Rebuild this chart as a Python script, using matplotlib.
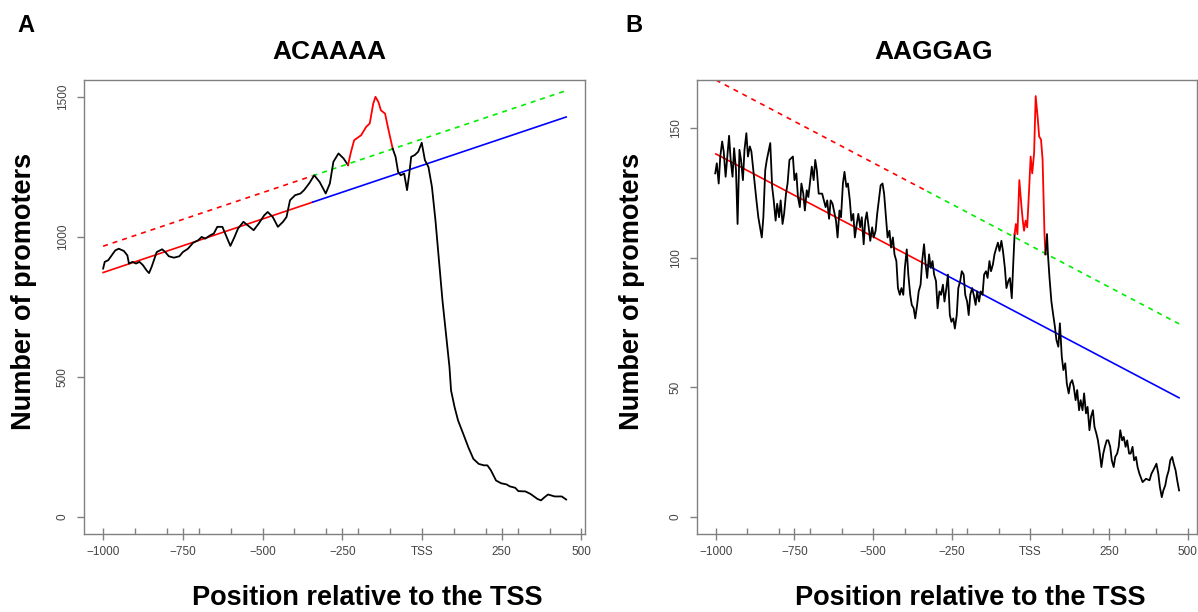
import numpy as np
import matplotlib
matplotlib.use("Agg")
import matplotlib.pyplot as plt

plt.rcParams['font.family'] = ['Liberation Sans', 'DejaVu Sans']

# ---------------- data ----------------
panel_letters = ["A", "B"]
motifs = ["ACAAAA", "AAGGAG"]
xlabel_text = "Position relative to the TSS"
ylabel_text = "Number of promoters"
xtick_vals = [-1000, -750, -500, -250, 0, 250, 500]
xtick_labels = ["\u22121000", "\u2212750", "\u2212500", "\u2212250", "TSS", "250", "500"]
xminor_vals = [-900, -800, -700, -600, -400, -300, -200, -100, 100, 200, 300, 400]
ytick_a = [0, 500, 1000, 1500]
ytick_b = [0, 50, 100, 150]

pos_a = [-1000, -995, -984, -962, -951, -935, -924, -919, -908, -897, -886, -875, -864, -856,
         -848, -832, -815, -805, -794, -778, -761, -750, -734, -718, -702, -691, -680, -664,
         -653, -642, -626, -615, -601, -588, -577, -560, -544, -528, -512, -495, -484, -468,
         -452, -436, -425, -414, -398, -381, -370, -354, -338, -321, -302, -289, -278, -262,
         -246, -232, -224, -213, -191, -175, -164, -153, -146, -137, -129, -116, -105, -92,
         -83, -75, -67, -56, -47, -40, -34, -23, -12, -1, 9, 20, 31, 42, 53, 64, 75, 86, 91,
         102, 113, 129, 145, 161, 178, 194, 205, 216, 232, 248, 265, 275, 292, 302, 324, 340,
         362, 373, 384, 395, 416, 438, 452]
cnt_a = [887, 911, 917, 952, 958, 950, 934, 905, 911, 905, 911, 899, 881, 871,
         893, 946, 956, 946, 931, 926, 931, 946, 958, 979, 988, 1000, 994, 1006,
         1012, 1036, 1036, 1006, 968, 1000, 1030, 1054, 1039, 1024, 1048, 1077, 1089, 1071,
         1036, 1054, 1071, 1131, 1149, 1155, 1167, 1191, 1220, 1196, 1155, 1191, 1268, 1298,
         1280, 1256, 1298, 1345, 1363, 1393, 1405, 1476, 1500, 1482, 1452, 1440, 1381, 1315,
         1286, 1232, 1220, 1226, 1167, 1226, 1286, 1292, 1304, 1336, 1274, 1250, 1179, 1060,
         917, 774, 655, 536, 452, 393, 345, 298, 250, 208, 190, 185, 185, 167, 131, 121, 117,
         110, 105, 93, 92, 83, 65, 60, 71, 81, 74, 74, 63]
highlight_a = (-232, -92)
trend_a_x = [-1000, 452]
trend_a_y = [873, 1428]
trend_a_split = -343
trend_a_offset = 94

pos_b = [-1002, -997, -991, -986, -980, -975, -969, -964, -958, -953, -947, -942, -936, -931,
         -925, -920, -914, -909, -903, -898, -892, -887, -881, -871, -865, -854, -849, -843,
         -838, -827, -821, -816, -810, -805, -799, -794, -788, -783, -777, -772, -766, -755,
         -750, -744, -739, -733, -728, -722, -717, -711, -706, -695, -689, -684, -679, -673,
         -662, -651, -646, -640, -635, -629, -618, -613, -607, -602, -596, -591, -585, -580,
         -574, -569, -563, -558, -552, -547, -541, -536, -530, -525, -520, -514, -509, -503,
         -498, -492, -487, -476, -470, -465, -459, -454, -448, -443, -437, -432, -426, -421,
         -415, -410, -404, -399, -393, -388, -382, -377, -371, -366, -360, -355, -349, -344,
         -338, -333, -328, -322, -317, -311, -306, -300, -295, -289, -284, -278, -273, -267,
         -262, -256, -251, -245, -240, -234, -229, -223, -218, -212, -207, -201, -196, -191,
         -185, -180, -174, -169, -163, -158, -152, -147, -141, -136, -130, -125, -119, -114,
         -108, -103, -98, -92, -87, -81, -76, -70, -65, -59, -54, -50, -46, -41, -35, -28,
         -24, -20, -15, -10, -4, 1, 6, 12, 17, 23, 28, 34, 39, 45, 48, 53, 56, 61, 67, 72,
         78, 83, 89, 94, 100, 105, 111, 116, 122, 127, 133, 138, 144, 149, 155, 160, 166, 171,
         177, 182, 188, 193, 199, 204, 210, 215, 221, 226, 232, 237, 243, 248, 254, 259, 265,
         270, 276, 281, 286, 292, 297, 303, 308, 314, 319, 325, 330, 336, 341, 347, 357, 368,
         379, 385, 396, 401, 407, 412, 418, 423, 429, 434, 440, 445, 451, 456, 462, 467, 473]
cnt_b = [132.5, 136.4, 128.6, 139, 144.8, 140.9, 131.2, 138.3, 147, 137.7, 131.2, 142.2, 133.8, 113,
         141.6, 137.7, 129.9, 141.6, 148, 139, 142.9, 140.9, 133.8, 122.1, 115.6, 107.8, 115.6, 133.8,
         137.7, 144.2, 127.3, 122.1, 114.3, 120.8, 115.6, 122.1, 113, 116.9, 124.7, 128.6, 137.7, 139,
         129.9, 132.5, 123.4, 119.5, 128.6, 124.7, 118.2, 126, 123.4, 135.1, 129.9, 137.7, 133.8, 124.7,
         124.7, 119.5, 122.1, 115, 122.1, 120.8, 114.3, 107.8, 118.2, 115.6, 128.6, 133.1, 127.3, 128.6,
         122.1, 114.3, 116.9, 107.8, 113, 116.9, 111.7, 115.6, 105.2, 114.3, 117.5, 111.7, 106.5, 111.7,
         107.8, 110.4, 116.9, 127.9, 128.6, 124.7, 115.6, 107.8, 110.4, 103.9, 107.8, 101.3, 98.7, 88.3,
         85.7, 88.3, 85.7, 96.1, 103.2, 93.5, 85.7, 81.8, 80.5, 76.6, 81.8, 87, 89.6, 98.7,
         105.2, 97.4, 92.2, 101.3, 96.1, 98.7, 93.5, 91, 80.5, 87, 85.7, 89.6, 83.1, 88.3,
         93.5, 77.9, 75.3, 76.6, 72.7, 77.9, 88.3, 91, 94.8, 93.5, 85.7, 83.1, 77.9, 85.7,
         88.3, 85.7, 81.8, 87, 83.1, 87, 85.7, 93.5, 94.8, 92.2, 98.7, 94.8, 97.4, 101.3,
         103.9, 105.8, 102.6, 106.5, 102.6, 96.1, 88.3, 91, 92.2, 84.4, 98.7, 109.1, 113, 109.1, 129.9, 119.5,
         114.3, 110.4, 114.3, 111.7, 126, 139, 132.5, 140.3, 162.3, 154.5, 146.8, 145.5, 137.7, 109.1, 101.3,
         109.1, 101.3, 92.2, 83.1, 78.6,
         73.5, 68.3, 65.7, 74.7, 61.9, 56.7, 59.3, 51.5, 47.7, 51.5, 52.8, 50.3, 45.1, 49, 41.2, 45.1, 41.2, 47.7,
         40, 42.5, 33.5, 38.7, 41.2, 34.8, 32.2, 29.6, 24.5, 19.3, 24.5, 27.1, 29.6, 29.6, 27.1, 21.9, 19.3,
         23.2, 24.5, 27.1, 33.5, 29.6, 30.9, 27.1, 29.6, 24.5, 24.5, 27.1, 21.9, 23.2, 19.3, 16.7, 13.5, 14.8,
         14.2, 16.7, 19.3, 20.6, 16.7, 11.6, 7.7, 10.3, 12.2, 15.5, 18, 21.9, 23.2, 20.6, 18, 14.2, 10.3]
highlight_b = (-50, 48)
trend_b_x = [-1000, 473]
trend_b_y = [140, 46]
trend_b_split = -328
trend_b_offset = 28.5

xlim_a = (-1060, 511)
xlim_b = (-1060, 530)
ylim_a = (-60, 1560)
ylim_b = (-6.5, 168.5)

# ---------------- drawing ----------------
W, H = 1198, 612
fig = plt.figure(figsize=(W / 100, H / 100), dpi=100)
axA = fig.add_axes([84 / W, 1 - 534 / H, 501 / W, 454 / H])
axB = fig.add_axes([697 / W, 1 - 534 / H, 500 / W, 454 / H])

GRAY = '#808080'


def draw_panel(ax, pos, cnt, hl, tx, ty, split, offset, xlim, ylim, yticks):
    pos = np.asarray(pos, float)
    cnt = np.asarray(cnt, float)
    lw = 1.3
    # trend lines
    ysplit = np.interp(split, tx, ty)
    ax.plot([tx[0], split], [ty[0], ysplit], color='#FF0000', lw=1.2, zorder=2)
    ax.plot([split, tx[1]], [ysplit, ty[1]], color='#0000FF', lw=1.2, zorder=2)
    ax.plot([tx[0], split], [ty[0] + offset, ysplit + offset], color='#FF0000', lw=1.2,
            dashes=(3, 3), zorder=2)
    ax.plot([split, tx[1]], [ysplit + offset, ty[1] + offset], color='#00EE00', lw=1.2,
            dashes=(3, 3), zorder=2)
    # curve
    m1 = pos <= hl[0]
    m2 = (pos >= hl[0]) & (pos <= hl[1])
    m3 = pos >= hl[1]
    ax.plot(pos[m1], cnt[m1], color='black', lw=lw, zorder=3)
    ax.plot(pos[m2], cnt[m2], color='#FF0000', lw=lw, zorder=3)
    ax.plot(pos[m3], cnt[m3], color='black', lw=lw, zorder=3)

    ax.set_xlim(*xlim)
    ax.set_ylim(*ylim)
    ax.set_xticks(xtick_vals)
    ax.set_xticklabels(xtick_labels)
    ax.set_xticks(xminor_vals, minor=True)
    ax.set_yticks(yticks)
    ax.set_yticklabels([str(v) for v in yticks], rotation=90, va='center')
    ax.tick_params(axis='x', which='major', direction='inout', length=9, width=1,
                   color=GRAY, labelcolor='#444444', labelsize=8.5, pad=4)
    ax.tick_params(axis='x', which='minor', direction='in', length=4, width=1, color=GRAY)
    ax.tick_params(axis='y', which='major', direction='out', length=5, width=1,
                   color=GRAY, labelcolor='#444444', labelsize=8.5, pad=6)
    for s in ax.spines.values():
        s.set_color(GRAY)
        s.set_linewidth(1.0)


draw_panel(axA, pos_a, cnt_a, highlight_a, trend_a_x, trend_a_y, trend_a_split,
           trend_a_offset, xlim_a, ylim_a, ytick_a)
draw_panel(axB, pos_b, cnt_b, highlight_b, trend_b_x, trend_b_y, trend_b_split,
           trend_b_offset, xlim_b, ylim_b, ytick_b)

# texts
fig.text(26 / W, 1 - 25 / H, panel_letters[0], fontsize=17, fontweight='bold', ha='center', va='center')
fig.text(634 / W, 1 - 25 / H, panel_letters[1], fontsize=17, fontweight='bold', ha='center', va='center')
fig.text(329 / W, 1 - 52 / H, motifs[0], fontsize=19, fontweight='bold', ha='center', va='center')
fig.text(934 / W, 1 - 52 / H, motifs[1], fontsize=19, fontweight='bold', ha='center', va='center')
fig.text(367 / W, 1 - 598 / H, xlabel_text, fontsize=19.5, fontweight='bold', ha='center', va='center')
fig.text(970 / W, 1 - 598 / H, xlabel_text, fontsize=19.5, fontweight='bold', ha='center', va='center')
fig.text(24 / W, 1 - 291 / H, ylabel_text, fontsize=19.5, fontweight='bold', ha='center', va='center',
         rotation=90)
fig.text(632 / W, 1 - 291 / H, ylabel_text, fontsize=19.5, fontweight='bold', ha='center', va='center',
         rotation=90)

fig.savefig("out.png", dpi=100)
